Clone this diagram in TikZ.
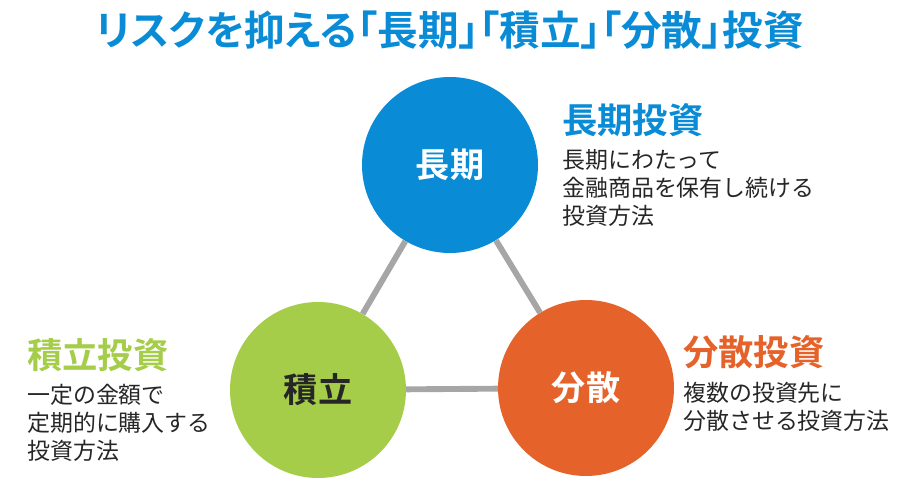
\documentclass[tikz,border=0pt]{standalone}
\usepackage{fontspec}
\setmainfont{Noto Sans CJK JP}[BoldFont={Noto Sans CJK JP Bold}]
\newfontfamily\titlefont{Noto Sans CJK JP Bold}[RawFeature=+palt]
\usetikzlibrary{positioning}
\definecolor{myblue}{HTML}{0A8BD6}
\definecolor{mygreen}{HTML}{A5CD4A}
\definecolor{myorange}{HTML}{E5622A}
\definecolor{mygray}{HTML}{A6A6A6}
\definecolor{mytext}{HTML}{262626}
\tikzset{
  ball/.style={circle, minimum size=176*0.85pt, inner sep=0pt, font=\fontsize{29}{34}\selectfont\bfseries},
  head/.style={anchor=west, inner sep=0pt, font=\fontsize{30}{34}\selectfont\bfseries},
  body/.style={anchor=north west, inner sep=0pt, align=left, text=mytext, font=\fontsize{19.5}{23.8}\selectfont},
  link/.style={draw=mygray, line width=5pt}
}
\begin{document}
\begin{tikzpicture}[x=0.85pt, y=-0.85pt]
\useasboundingbox (0,0) rectangle (900,498);
\node[text=myblue, font=\fontsize{34.5}{40}\selectfont\titlefont] (title) at (450,30) {リスクを抑える「長期」「積立」「分散」投資};

\node[ball, fill=myblue, text=white] (long) at (450,165) {長期};
\node[ball, fill=mygreen, text=mytext] (accum) at (318,390) {積立};
\node[ball, fill=myorange, text=white] (diver) at (586,388) {分散};
\draw[link] (long) -- (accum);
\draw[link] (long) -- (diver);
\draw[link] (accum) -- (diver);

\node[head, text=myblue] (longhead) at (562,120) {長期投資};
\node[body] (longbody) at (562,149) {長期にわたって\\金融商品を保有し続ける\\投資方法};
\node[head, text=mygreen] (accumhead) at (27,355) {積立投資};
\node[body] (accumbody) at (27,384) {一定の金額で\\定期的に購入する\\投資方法};
\node[head, text=myorange] (diverhead) at (683,352) {分散投資};
\node[body] (diverbody) at (683,382) {複数の投資先に\\分散させる投資方法};
\end{tikzpicture}
\end{document}
